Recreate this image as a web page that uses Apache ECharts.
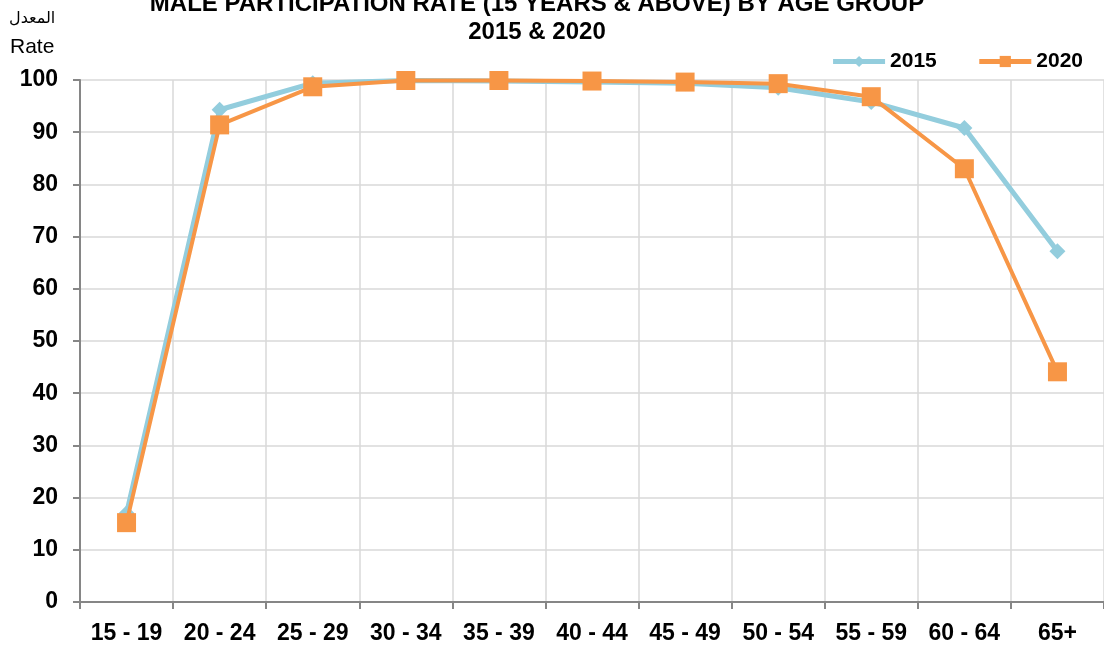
<!DOCTYPE html>
<html>
<head>
<meta charset="utf-8">
<script src="https://cdn.jsdelivr.net/npm/echarts@6/dist/echarts.min.js"></script>
<style>
  html, body { margin: 0; padding: 0; background: #fff; }
  #chart { width: 1104px; height: 646px; }
</style>
</head>
<body>
<div id="chart"></div>
<script>
// age groups on the x axis
const ageGroups = ['15 - 19', '20 - 24', '25 - 29', '30 - 34', '35 - 39', '40 - 44',
                   '45 - 49', '50 - 54', '55 - 59', '60 - 64', '65+'];
// participation rate
const rate2015 = [17.0, 94.3, 99.4, 99.9, 99.8, 99.6, 99.4, 98.5, 95.8, 90.8, 67.2];
const rate2020 = [15.2, 91.4, 98.7, 99.9, 99.9, 99.8, 99.6, 99.3, 96.8, 83.0, 44.1];

const font = 'Liberation Sans, Arial, sans-serif';
const axisGray = '#868686';
const gridGray = '#d9d9d9';

let myChart = echarts.init(document.getElementById('chart'));
let option = {
  textStyle: { fontFamily: font },
  title: {
    text: 'MALE PARTICIPATION RATE (15 YEARS & ABOVE) BY AGE GROUP\n2015 & 2020',
    left: 532,
    textAlign: 'center',
    top: -15,
    textStyle: { fontSize: 24, fontWeight: 'bold', color: '#000', lineHeight: 28, fontFamily: font }
  },
  // y axis caption, arabic above english
  graphic: [
    { type: 'text', left: 9, top: 11, style: { text: 'المعدل', fill: '#000', font: '16px "DejaVu Sans", sans-serif' } },
    { type: 'text', left: 10, top: 37, style: { text: 'Rate', fill: '#000', font: '21px Liberation Sans, Arial, sans-serif' } }
  ],
  legend: {
    right: 16,
    top: 46,
    itemWidth: 52,
    itemHeight: 14,
    itemGap: 40,
    lineStyle: { width: 5 },
    textStyle: { fontSize: 21, fontWeight: 'bold', color: '#000', fontFamily: font },
    data: ['2015', '2020']
  },
  grid: { left: 80, right: 0, top: 80, bottom: 44, containLabel: false },
  xAxis: {
    type: 'category',
    data: ageGroups,
    boundaryGap: true,
    axisLine: { lineStyle: { color: axisGray, width: 2 } },
    axisTick: { show: true, length: 7, lineStyle: { color: axisGray, width: 2 } },
    splitLine: { show: true, lineStyle: { color: gridGray, width: 1.5 } },
    axisLabel: { color: '#000', fontSize: 23, fontWeight: 'bold', margin: 20, fontFamily: font }
  },
  yAxis: {
    type: 'value',
    min: 0,
    max: 100,
    interval: 10,
    axisLine: { show: true, lineStyle: { color: axisGray, width: 2 } },
    axisTick: { show: true, length: 7, lineStyle: { color: axisGray, width: 2 } },
    splitLine: { show: true, lineStyle: { color: gridGray, width: 1.5 } },
    axisLabel: { color: '#000', fontSize: 23, fontWeight: 'bold', margin: 22, fontFamily: font }
  },
  series: [
    {
      name: '2015',
      type: 'line',
      data: rate2015,
      symbol: 'diamond',
      symbolSize: 16,
      lineStyle: { color: '#93CDDD', width: 5 },
      itemStyle: { color: '#93CDDD' },
      z: 2
    },
    {
      name: '2020',
      type: 'line',
      data: rate2020,
      symbol: 'rect',
      symbolSize: 19,
      lineStyle: { color: '#F79646', width: 4 },
      itemStyle: { color: '#F79646' },
      z: 3
    }
  ]
};
myChart.setOption(option);
</script>
</body>
</html>
